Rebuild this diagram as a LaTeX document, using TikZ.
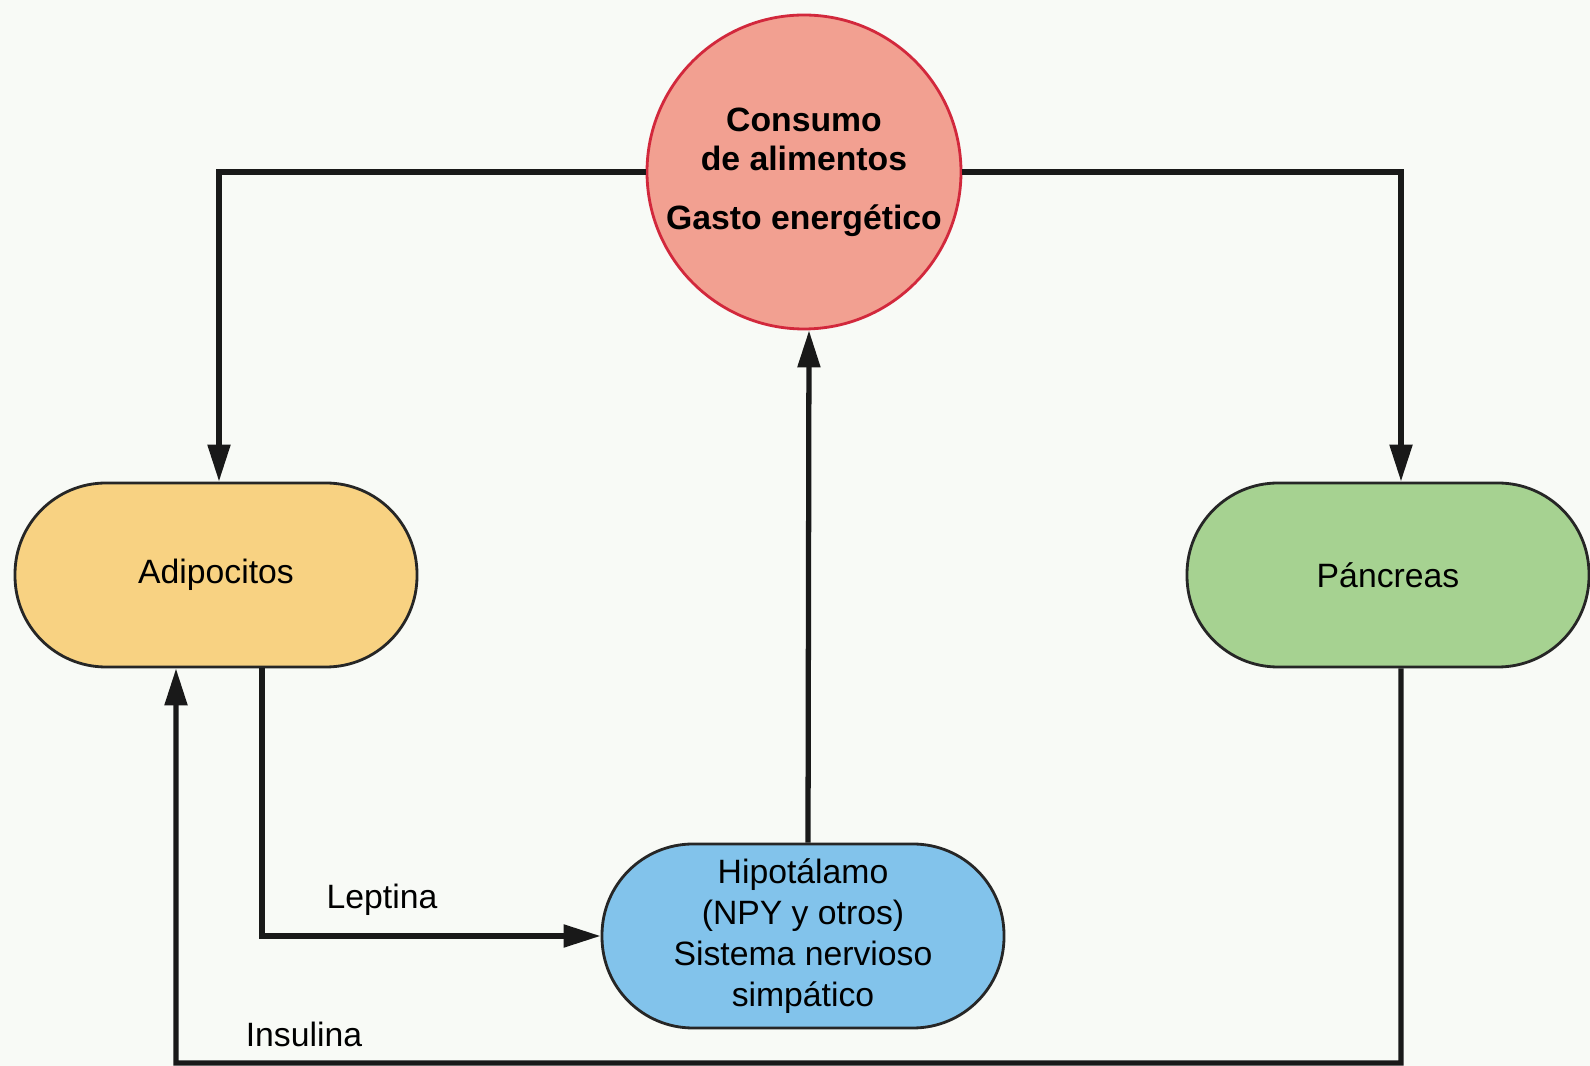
\documentclass[tikz,border=0pt]{standalone}
\usepackage{fontspec}
\setmainfont{Liberation Sans}
\usepackage{tikz}
\usetikzlibrary{arrows.meta,positioning,calc}
\usepackage{xcolor}
\definecolor{bgpaper}{HTML}{F8FAF6}
\definecolor{foodred}{HTML}{F2A091}
\definecolor{foodline}{HTML}{D2283C}
\definecolor{fatyellow}{HTML}{F8D282}
\definecolor{pancgreen}{HTML}{A6D291}
\definecolor{hypoblue}{HTML}{82C3EB}

\begin{document}
\begin{tikzpicture}[
  organ/.style={draw=black!85, line width=0.8pt, rounded corners=0.91cm, minimum width=4.02cm, minimum height=1.84cm, fill=#1, font=\fontsize{9.6}{11.6}\selectfont, align=center, inner sep=0pt},
  hub/.style={circle, draw=foodline, line width=0.8pt, fill=foodred, minimum size=3.14cm, inner sep=0pt, font=\fontsize{9.6}{11.2}\selectfont\bfseries, align=center},
  arrow/.style={-{Triangle[length=3.7mm,width=2.2mm]}, line width=1.5pt, draw=black!90},
  tag/.style={font=\fontsize{9.6}{11.6}\selectfont}
]

% Page
\fill[bgpaper] (0,0) rectangle (15.9,-10.66);
\useasboundingbox (0,0) rectangle (15.9,-10.66);

% Nodes
\node[hub] (food) at (8.04,-1.72) {Consumo\\de alimentos\\[5.5pt]Gasto energético};
\node[organ=fatyellow] (adipo) at (2.16,-5.75) {Adipocitos};
\node[organ=pancgreen] (panc) at (13.88,-5.75) {Páncreas};
\node[organ=hypoblue] (hypo) at (8.03,-9.36) {Hipotálamo\\(NPY y otros)\\Sistema nervioso\\simpático};

\coordinate (insbase) at (1.76,-10.63);

% Arrows
\draw[arrow] (food.west) -| ([xshift=0.03cm]adipo.north);
\draw[arrow] (food.east) -| ([xshift=0.13cm]panc.north);
\draw[arrow] ([xshift=0.05cm]hypo.north) -- ([xshift=0.05cm]food.south);
\draw[arrow] ([xshift=0.46cm]adipo.south) |- (hypo.west);
\draw[arrow] ([xshift=0.13cm]panc.south) |- (insbase) -- ([xshift=-0.40cm]adipo.south);

% Labels
\node[tag] (leptin) at (3.82,-9.00) {Leptina};
\node[tag] (insulin) at (3.04,-10.34) {Insulina};

\end{tikzpicture}
\end{document}
